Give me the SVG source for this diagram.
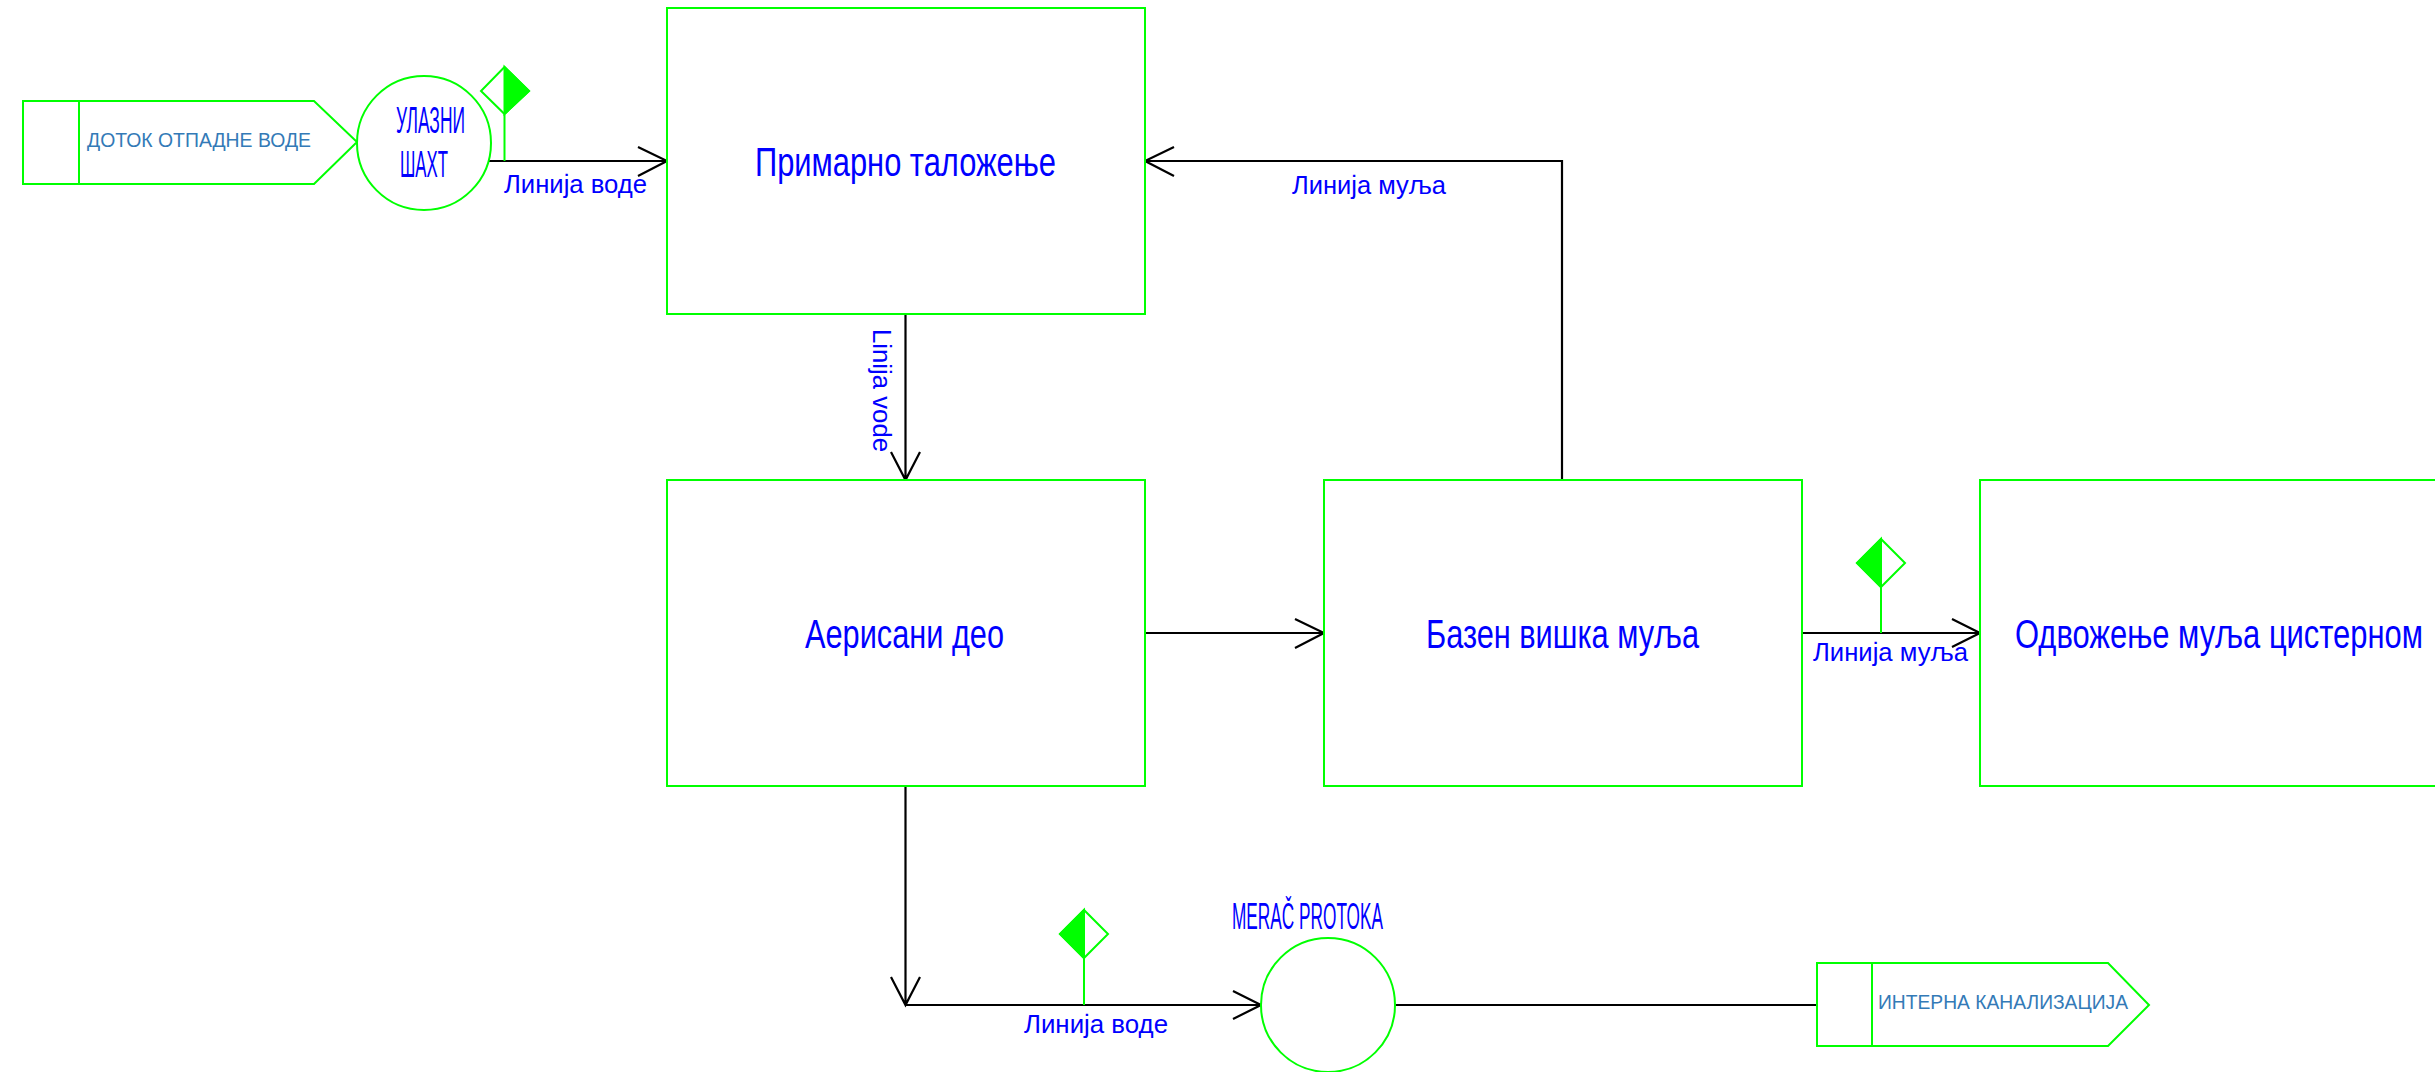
<svg xmlns="http://www.w3.org/2000/svg" width="2435" height="1072" viewBox="0 0 2435 1072">
<style>
text{font-family:"Liberation Sans",Arial,sans-serif;fill:#0000ff}
.n{fill:#fff;stroke:#00ff00;stroke-width:2}
.s{fill:none;stroke:#00ff00;stroke-width:2}
.f{fill:#00ff00;stroke:#00ff00;stroke-width:2}
.c{fill:none;stroke:#000;stroke-width:2.2}
.big{font-size:40px}
.mid{font-size:36px}
.lab{font-size:26px}
.off{font-size:20px;fill:#337ab7}
</style>
<rect width="2435" height="1072" fill="#fff"/>
<g id="connectors">
<path class="c" d="M488 161H667M638 147L667 161L638 176"/>
<path class="c" d="M905.500 314V480M891 452L905.500 480L920 452"/>
<path class="c" d="M1145 633H1324M1295 619L1324 633L1295 648"/>
<path class="c" d="M1562 480V161H1145M1174 147L1145 161L1174 176"/>
<path class="c" d="M1802 633H1980M1952 619L1980 633L1952 647"/>
<path class="c" d="M905.500 786V1005M891 977L905.500 1005L920 977"/>
<path class="c" d="M905.500 1005H1261M1233 991L1261 1005L1233 1019"/>
<path class="c" d="M1395 1005H1817"/>
<text class="lab" x="504" y="193" textLength="143" lengthAdjust="spacingAndGlyphs">Линија воде</text>
<text class="lab" x="1292" y="194" textLength="154" lengthAdjust="spacingAndGlyphs">Линија муља</text>
<text class="lab" x="1813" y="661" textLength="155" lengthAdjust="spacingAndGlyphs">Линија муља</text>
<text class="lab" x="1024" y="1033" textLength="144" lengthAdjust="spacingAndGlyphs">Линија воде</text>
<text class="lab" transform="translate(873 329) rotate(90)" textLength="123" lengthAdjust="spacingAndGlyphs">Linija vode</text>
</g>
<g id="inflow">
<path class="n" d="M23 101H314L357 142L314 184H23Z"/>
<path class="s" d="M79 101V184"/>
<text class="off" x="87" y="147" textLength="224" lengthAdjust="spacingAndGlyphs">ДОТОК ОТПАДНЕ ВОДЕ</text>
</g>
<g id="inlet-shaft">
<circle class="n" cx="424" cy="143" r="67"/>
<text class="mid" x="396" y="133" textLength="69" lengthAdjust="spacingAndGlyphs">УЛАЗНИ</text>
<text class="mid" x="400" y="177" textLength="48" lengthAdjust="spacingAndGlyphs">ШАХТ</text>
</g>
<g id="valve-1">
<path class="s" d="M504.500 114V161M504.500 67L481 91L504.500 114L529 91Z"/>
<path class="f" d="M504.500 67L529 91L504.500 114Z"/>
</g>
<g id="primary">
<rect class="n" x="667" y="8" width="478" height="306"/>
<text class="big" x="755" y="176" textLength="301" lengthAdjust="spacingAndGlyphs">Примарно таложење</text>
</g>
<g id="aeration">
<rect class="n" x="667" y="480" width="478" height="306"/>
<text class="big" x="805" y="648" textLength="199" lengthAdjust="spacingAndGlyphs">Аерисани део</text>
</g>
<g id="excess-sludge">
<rect class="n" x="1324" y="480" width="478" height="306"/>
<text class="big" x="1426" y="648" textLength="273" lengthAdjust="spacingAndGlyphs">Базен вишка муља</text>
</g>
<g id="sludge-removal">
<rect class="n" x="1980" y="480" width="478" height="306"/>
<text class="big" transform="translate(2015 648) scale(.773 1)">Одвожење муља цистерном</text>
</g>
<g id="valve-2">
<path class="s" d="M1881 587V633M1881 539L1857 563L1881 587L1905 563Z"/>
<path class="f" d="M1881 539L1857 563L1881 587Z"/>
</g>
<g id="valve-3">
<path class="s" d="M1084 958V1005M1084 910L1060 934L1084 958L1108 934Z"/>
<path class="f" d="M1084 910L1060 934L1084 958Z"/>
</g>
<g id="flow-meter">
<circle class="n" cx="1328" cy="1005" r="67"/>
<text class="mid" x="1232" y="929" textLength="151" lengthAdjust="spacingAndGlyphs">MERAČ PROTOKA</text>
</g>
<g id="outflow">
<path class="n" d="M1817 963H2108L2149 1005L2108 1046H1817Z"/>
<path class="s" d="M1872 963V1046"/>
<text class="off" x="1878" y="1009" textLength="250" lengthAdjust="spacingAndGlyphs">ИНТЕРНА КАНАЛИЗАЦИЈА</text>
</g>
</svg>
